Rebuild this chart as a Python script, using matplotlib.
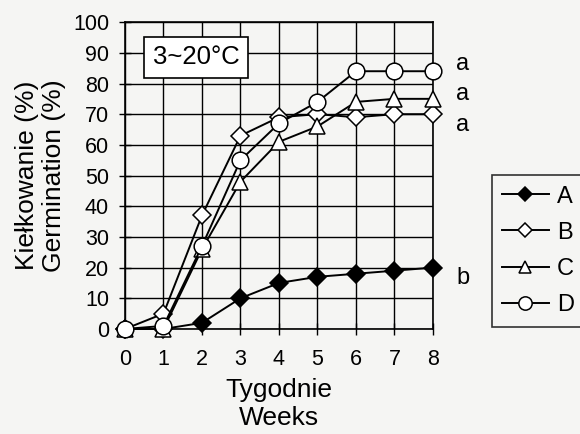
import matplotlib.pyplot as plt

plt.rcParams["font.family"] = ["Liberation Sans", "DejaVu Sans"]

# ---- DATA ----
weeks = [0, 1, 2, 3, 4, 5, 6, 7, 8]
series_names = ["A", "B", "C", "D"]
germ_a = [0, 0, 2, 10, 15, 17, 18, 19, 20]
germ_b = [0, 5, 37, 63, 69, 70, 69, 70, 70]
germ_c = [0, 0, 26, 48, 61, 66, 74, 75, 75]
germ_d = [0, 1, 27, 55, 67, 74, 84, 84, 84]
group_letters = ["b", "a", "a", "a"]
letter_y = [16.5, 66.5, 76.5, 86.5]
ytick_vals = list(range(0, 101, 10))

# ---- PLOT ----
bg = "#f5f5f3"
fig = plt.figure(figsize=(5.8, 4.34), dpi=100, facecolor=bg)
ax = fig.add_axes([0.2155, 0.242, 0.531, 0.707])
ax.set_facecolor(bg)

styles = [
    dict(marker="D", mfc="black", ms=9),
    dict(marker="D", mfc="white", ms=9),
    dict(marker="^", mfc="white", ms=11),
    dict(marker="o", mfc="white", ms=12),
]
for name, vals, st in zip(series_names, [germ_a, germ_b, germ_c, germ_d], styles):
    ax.plot(weeks, vals, color="black", lw=1.4, mec="black", mew=1.1,
            clip_on=False, zorder=3, label=name, **st)

ax.set_xlim(0, 8)
ax.set_ylim(0, 100)
ax.set_xticks(weeks)
ax.set_yticks(ytick_vals)
ax.grid(True, color="black", lw=1.0)
ax.set_axisbelow(True)
for s in ax.spines.values():
    s.set_linewidth(1.2)
ax.tick_params(axis="both", labelsize=15.5, direction="inout", length=9, width=1.0)
ax.tick_params(axis="y", pad=7)
ax.tick_params(axis="x", pad=10)

ax.set_xlabel("Tygodnie\nWeeks", fontsize=19, linespacing=1.2, labelpad=6)
ax.set_ylabel("Kiełkowanie (%)\nGermination (%)", fontsize=19,
              linespacing=1.15, labelpad=5)

ax.text(0.72, 88.5, "3~20°C", fontsize=18.5, ha="left", va="center",
        bbox=dict(boxstyle="square,pad=0.33", fc="white", ec="black", lw=1.2))

for lt, ly in zip(group_letters, letter_y):
    ax.text(8.78, ly, lt, fontsize=17, ha="center", va="center", clip_on=False)

fig.legend(loc="upper left", bbox_to_anchor=(0.848, 0.597), borderaxespad=0,
           fontsize=17, frameon=True, fancybox=False, edgecolor="black",
           facecolor=bg, handlelength=1.95, handletextpad=0.35, labelspacing=0.6,
           borderpad=0.45, markerscale=0.8)
fig.legends[0].get_frame().set_linewidth(1.2)

fig.savefig("out.png", dpi=100, facecolor=bg)
